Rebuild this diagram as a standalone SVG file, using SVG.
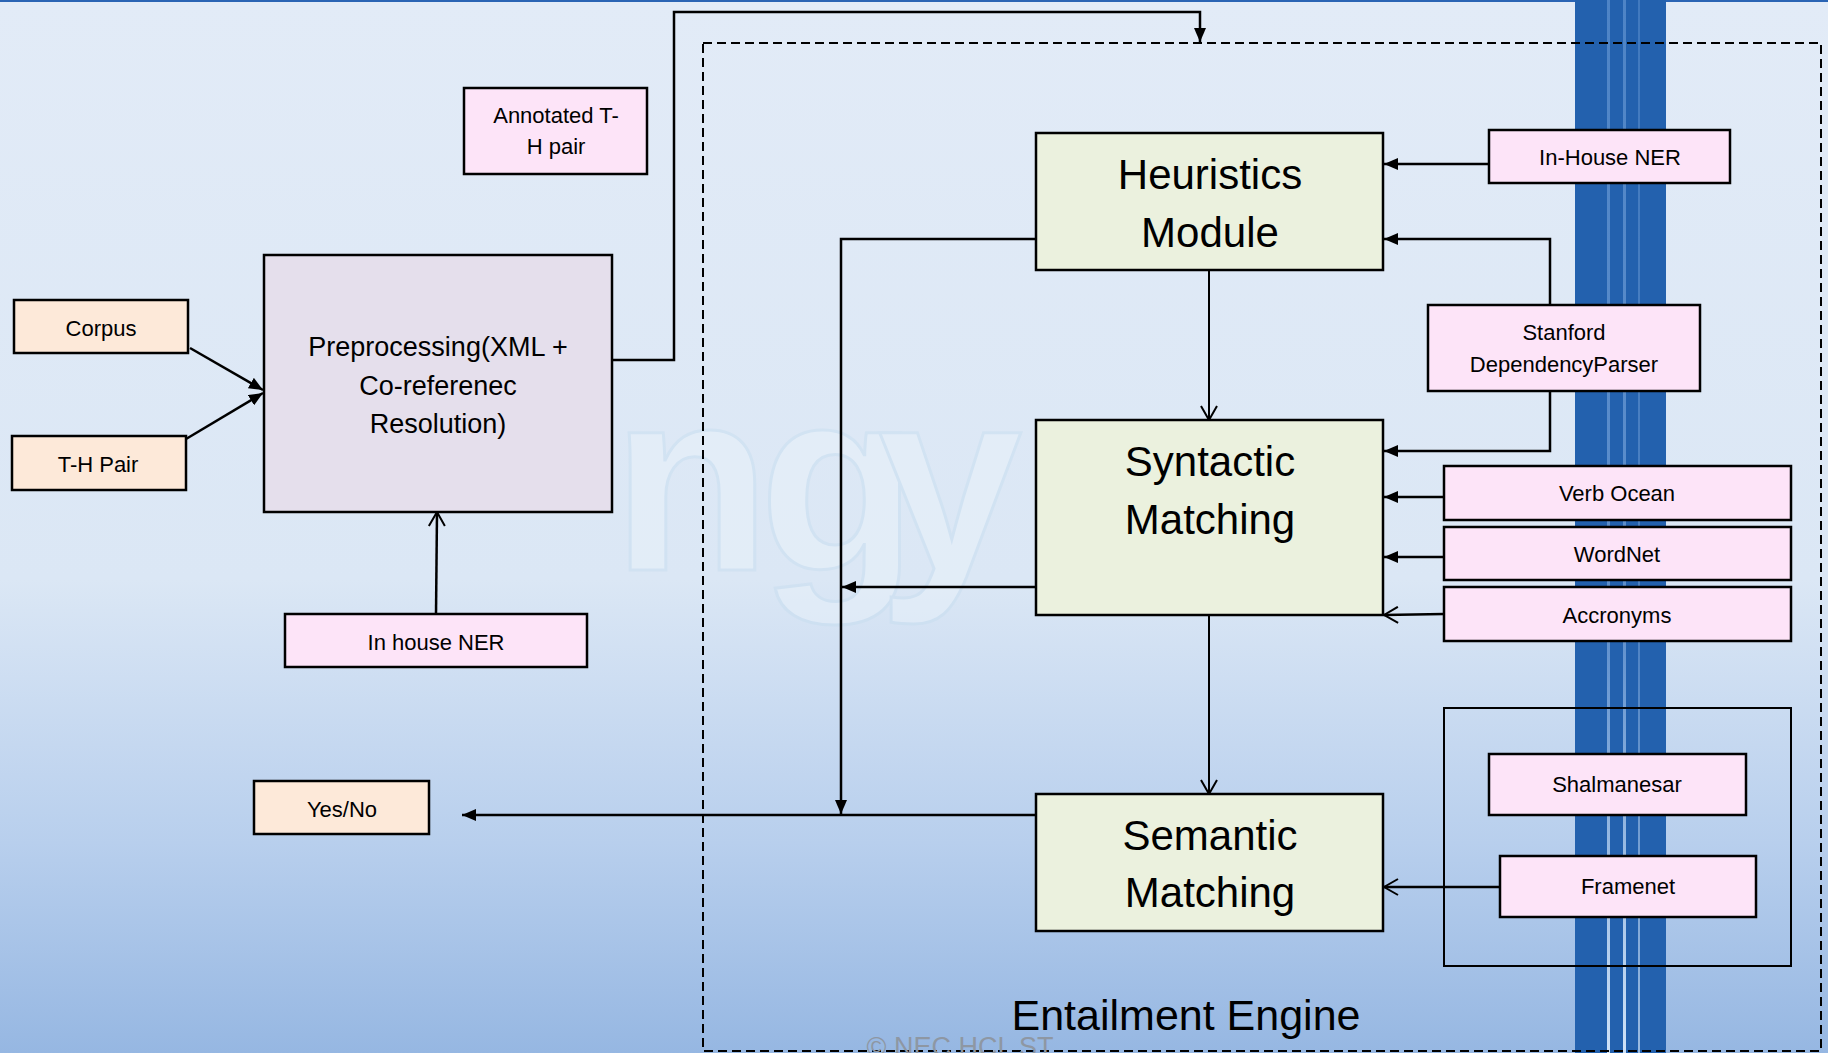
<svg xmlns="http://www.w3.org/2000/svg" width="1828" height="1053" viewBox="0 0 1828 1053">
<defs>
<linearGradient id="bg" x1="0" y1="0" x2="0" y2="1">
<stop offset="0" stop-color="#e2ebf7"/>
<stop offset="0.55" stop-color="#dbe7f5"/>
<stop offset="0.8" stop-color="#b8cfed"/>
<stop offset="1" stop-color="#96b7e2"/>
</linearGradient>
<linearGradient id="streak" x1="0" y1="0" x2="0" y2="1">
<stop offset="0" stop-color="#4e84c6"/>
<stop offset="0.6" stop-color="#5f90cd"/>
<stop offset="1" stop-color="#cfe2f7"/>
</linearGradient>
<marker id="fa" viewBox="0 0 14 12" refX="14" refY="6" markerWidth="14" markerHeight="12" markerUnits="userSpaceOnUse" orient="auto">
<path d="M0,0 L14,6 L0,12 z" fill="#000"/>
</marker>
<marker id="oa" viewBox="0 0 16 18" refX="15" refY="9" markerWidth="16" markerHeight="18" markerUnits="userSpaceOnUse" orient="auto">
<path d="M1,1 L15,9 L1,17" fill="none" stroke="#000" stroke-width="2"/>
</marker>
</defs>
<style>
.bx{stroke:#000;stroke-width:2.5}
.peach{fill:#fde9d9}
.pink{fill:#fde4f8}
.lav{fill:#e5dfec}
.green{fill:#ebf1de}
text{font-family:"Liberation Sans",Arial,sans-serif;fill:#000;text-anchor:middle}
.s{font-size:22px}
.m{font-size:27px}
.l{font-size:42px}
.c{stroke:#000;stroke-width:2.5;fill:none}
.wm{font-size:260px;font-weight:bold;fill:#eef6fc;stroke:#c3dcef;stroke-width:3;text-anchor:start}
</style>
<rect x="0" y="0" width="1828" height="1053" fill="url(#bg)"/>
<rect x="0" y="0" width="1828" height="2" fill="#2a64b4"/>
<g id="watermark" opacity="0.4">
<text class="wm" x="612" y="570">n<tspan dx="-12">g</tspan><tspan dx="-40">y</tspan></text>
</g>
<g id="stripe">
<rect x="1575" y="0" width="91" height="1053" fill="#2361ae"/>
<rect x="1607" y="0" width="3" height="1053" fill="url(#streak)"/>
<rect x="1623" y="0" width="3" height="1053" fill="url(#streak)"/>
<rect x="1638" y="0" width="2" height="1053" fill="url(#streak)" opacity="0.7"/>
</g>
<g id="entailment-engine">
<rect x="703" y="43" width="1118" height="1008" fill="none" stroke="#000" stroke-width="2" stroke-dasharray="9 5"/>
<text x="1186" y="1030" style="font-size:43px">Entailment Engine</text>
</g>
<g id="connectors">
<path class="c" d="M612,360 H674 V12 H1200 V42" marker-end="url(#fa)"/>
<path class="c" d="M190,348 L263,390" marker-end="url(#fa)"/>
<path class="c" d="M186,439 L263,393" marker-end="url(#fa)"/>
<path class="c" d="M436,614 L437,512" marker-end="url(#oa)"/>
<path class="c" d="M1489,164 H1384" marker-end="url(#fa)"/>
<path class="c" d="M1550,305 V239 H1384" marker-end="url(#fa)"/>
<path class="c" d="M1550,391 V451 H1384" marker-end="url(#fa)"/>
<path class="c" d="M1036,239 H841 V814" marker-end="url(#fa)"/>
<path class="c" style="stroke-width:2" d="M1209,270 V420" marker-end="url(#oa)"/>
<path class="c" d="M1444,497 H1384" marker-end="url(#fa)"/>
<path class="c" d="M1444,557 H1384" marker-end="url(#fa)"/>
<path class="c" d="M1444,614 L1384,615" marker-end="url(#oa)"/>
<path class="c" d="M1036,587 H842" marker-end="url(#fa)"/>
<path class="c" style="stroke-width:2" d="M1209,615 V794" marker-end="url(#oa)"/>
<path class="c" d="M1500,887 H1384" marker-end="url(#oa)"/>
<path class="c" d="M1036,815 H462" marker-end="url(#fa)"/>
</g>
<g id="annotated">
<rect class="bx pink" x="464" y="88" width="183" height="86"/>
<text class="s" x="556" y="123">Annotated T-</text>
<text class="s" x="556" y="154">H pair</text>
</g>
<g id="corpus">
<rect class="bx peach" x="14" y="300" width="174" height="53"/>
<text class="s" x="101" y="336">Corpus</text>
</g>
<g id="th-pair">
<rect class="bx peach" x="12" y="436" width="174" height="54"/>
<text class="s" x="98" y="472">T-H Pair</text>
</g>
<g id="preprocessing">
<rect class="bx lav" x="264" y="255" width="348" height="257"/>
<text class="m" x="438" y="356">Preprocessing(XML +</text>
<text class="m" x="438" y="395">Co-referenec</text>
<text class="m" x="438" y="433">Resolution)</text>
</g>
<g id="in-house-ner">
<rect class="bx pink" x="285" y="614" width="302" height="53"/>
<text class="s" x="436" y="650">In house NER</text>
</g>
<g id="yes-no">
<rect class="bx peach" x="254" y="781" width="175" height="53"/>
<text class="s" x="342" y="817">Yes/No</text>
</g>
<g id="heuristics">
<rect class="bx green" x="1036" y="133" width="347" height="137"/>
<text class="l" x="1210" y="189">Heuristics</text>
<text class="l" x="1210" y="247">Module</text>
</g>
<g id="syntactic">
<rect class="bx green" x="1036" y="420" width="347" height="195"/>
<text class="l" x="1210" y="476">Syntactic</text>
<text class="l" x="1210" y="534">Matching</text>
</g>
<g id="semantic">
<rect class="bx green" x="1036" y="794" width="347" height="137"/>
<text class="l" x="1210" y="850">Semantic</text>
<text class="l" x="1210" y="907">Matching</text>
</g>
<g id="inhouse-ner-right">
<rect class="bx pink" x="1489" y="130" width="241" height="53"/>
<text class="s" x="1610" y="165">In-House NER</text>
</g>
<g id="stanford">
<rect class="bx pink" x="1428" y="305" width="272" height="86"/>
<text class="s" x="1564" y="340">Stanford</text>
<text class="s" x="1564" y="372">DependencyParser</text>
</g>
<g id="verb-ocean">
<rect class="bx pink" x="1444" y="466" width="347" height="54"/>
<text class="s" x="1617" y="501">Verb Ocean</text>
</g>
<g id="wordnet">
<rect class="bx pink" x="1444" y="527" width="347" height="53"/>
<text class="s" x="1617" y="562">WordNet</text>
</g>
<g id="accronyms">
<rect class="bx pink" x="1444" y="587" width="347" height="54"/>
<text class="s" x="1617" y="623">Accronyms</text>
</g>
<g id="frame-group">
<rect x="1444" y="708" width="347" height="258" fill="none" stroke="#000" stroke-width="2"/>
</g>
<g id="shalmanesar">
<rect class="bx pink" x="1489" y="754" width="257" height="61"/>
<text class="s" x="1617" y="792">Shalmanesar</text>
</g>
<g id="framenet">
<rect class="bx pink" x="1500" y="856" width="256" height="61"/>
<text class="s" x="1628" y="894">Framenet</text>
</g>
<text x="960" y="1056" style="font-size:27px;fill:#8e97a3">© NEC HCL ST</text>
</svg>
